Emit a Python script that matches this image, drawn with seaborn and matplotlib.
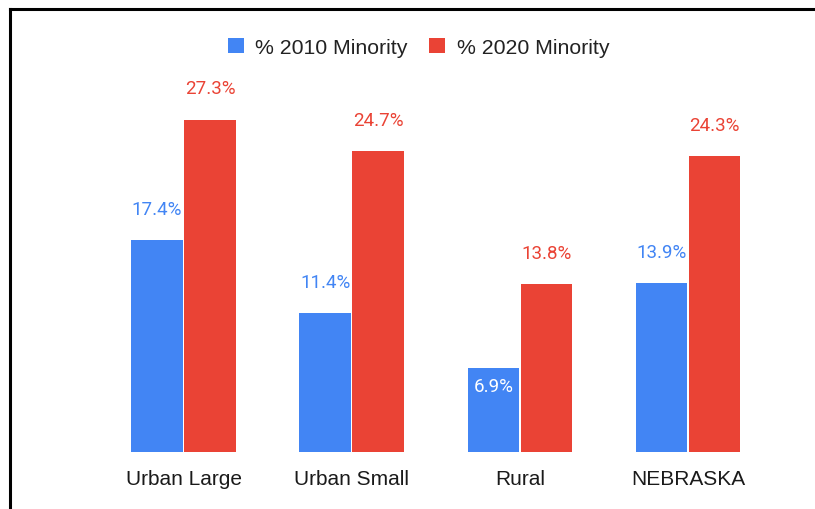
import matplotlib
matplotlib.use("Agg")
import matplotlib.pyplot as plt
from matplotlib.lines import Line2D
from matplotlib.patches import Patch
import seaborn as sns
import pandas as pd

# Share of minority population by area type
regions = ["Urban Large", "Urban Small", "Rural", "NEBRASKA"]
minority_2010 = [17.4, 11.4, 6.9, 13.9]
minority_2020 = [27.3, 24.7, 13.8, 24.3]
series_names = ["% 2010 Minority", "% 2020 Minority"]

BLUE = "#4285F4"
RED = "#EA4335"

df = pd.DataFrame({
    "region": regions * 2,
    "value": minority_2010 + minority_2020,
    "series": [series_names[0]] * len(regions) + [series_names[1]] * len(regions),
})

sns.set_theme(style="white")
plt.rcParams["font.family"] = ["Roboto", "DejaVu Sans"]

fig = plt.figure(figsize=(8.15, 5.10), dpi=100)
ax = fig.add_axes([0.1220, 0.1118, 0.8255, 0.7160])

sns.barplot(
    data=df, x="region", y="value", hue="series",
    palette=[BLUE, RED], width=0.63, gap=0.025,
    saturation=1, ax=ax, legend=False, linewidth=0,
)

ax.set_ylim(0, 30)
ax.set_xlim(-0.5, len(regions) - 0.5)
ax.set_xlabel("")
ax.set_ylabel("")
ax.set_yticks([])
for s in ax.spines.values():
    s.set_visible(False)
ax.tick_params(axis="x", length=0, pad=12)
for lbl in ax.get_xticklabels():
    lbl.set_fontfamily(["Liberation Sans", "DejaVu Sans"])
    lbl.set_fontsize(15)
    lbl.set_color("#1a1a1a")

# Value labels on every bar
for container, color in zip(ax.containers, [BLUE, RED]):
    for bar in container:
        v = bar.get_height()
        x = bar.get_x() + bar.get_width() / 2
        if v < 10:
            ax.annotate(f"{v:.1f}%", (x, v), xytext=(0, -13), textcoords="offset points",
                        ha="center", va="center", fontsize=13.5, color="white")
        else:
            ax.annotate(f"{v:.1f}%", (x, v), xytext=(0, 22.5), textcoords="offset points",
                        ha="center", va="center", fontsize=13.5, color=color)

handles = [Patch(facecolor=BLUE, edgecolor="none"), Patch(facecolor=RED, edgecolor="none")]
fig.legend(handles, series_names, loc="center", bbox_to_anchor=(0.5135, 0.905),
           ncol=2, frameon=False,
           prop={"family": ["Liberation Sans", "DejaVu Sans"], "size": 15.3},
           handlelength=0.75, handleheight=0.75,
           handletextpad=0.55, columnspacing=1.0, labelcolor="#222222")

# Frame lines along the left and top edges
fig.add_artist(Line2D([9.5 / 815, 9.5 / 815], [0, 1 - 9.5 / 510], transform=fig.transFigure,
                      color="black", linewidth=2.2, solid_capstyle="projecting"))
fig.add_artist(Line2D([9.5 / 815, 1], [1 - 9.5 / 510, 1 - 9.5 / 510], transform=fig.transFigure,
                      color="black", linewidth=2.2, solid_capstyle="projecting"))

fig.savefig("out.png", dpi=100, facecolor="white")
